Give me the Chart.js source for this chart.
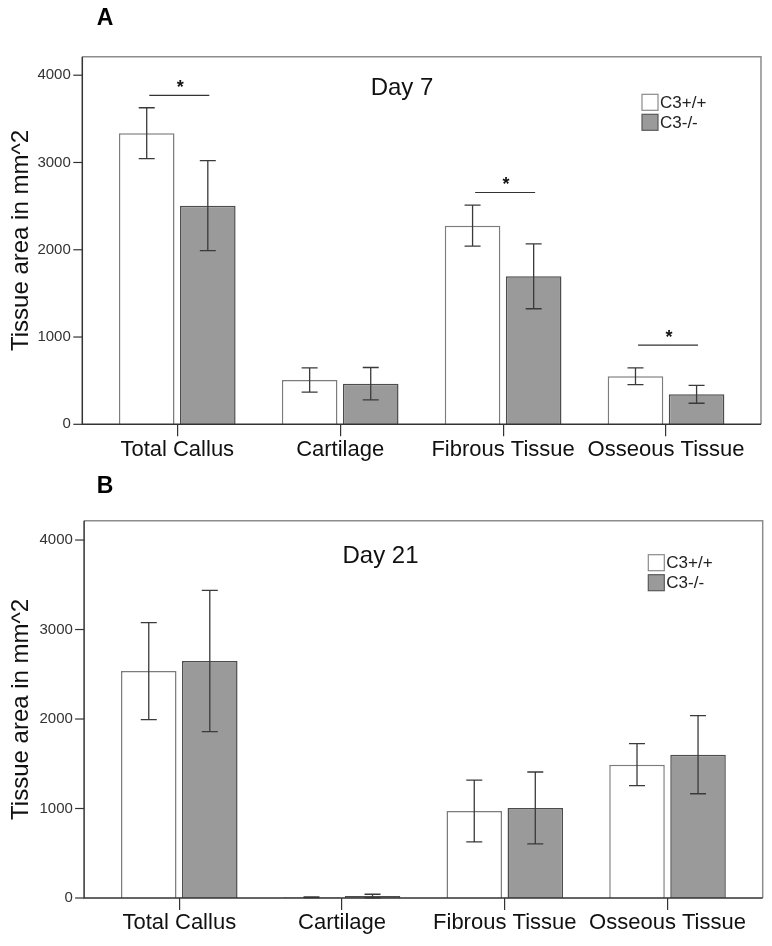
<!DOCTYPE html>
<html>
<head>
<meta charset="utf-8">
<script src="https://cdn.jsdelivr.net/npm/chart.js@4.4.0/dist/chart.umd.min.js"></script>
<style>
  html, body { margin: 0; padding: 0; background: #fff; }
  .panel { position: absolute; left: 0; width: 772px; height: 473px; }
</style>
</head>
<body>
<div class="panel" style="top:0"><canvas id="day7Chart" width="772" height="473"></canvas></div>
<div class="panel" style="top:473px"><canvas id="day21Chart" width="772" height="473"></canvas></div>
<script>
// --- DATA ---
const categories = ['Total Callus', 'Cartilage', 'Fibrous Tissue', 'Osseous Tissue'];
const seriesLabels = ['C3+/+', 'C3-/-'];
const yTicks = [0, 1000, 2000, 3000, 4000];

// Day 7
const day7Wt = [3335, 508, 2276, 550];
const day7WtErr = [292, 139, 235, 96];
const day7Ko = [2505, 465, 1696, 344];
const day7KoErr = [516, 186, 372, 103];
const day7SigIndex = [0, 2, 3];
const day7SigValue = [3770, 2656, 907];

// Day 21
const day21Wt = [2536, 8, 972, 1490];
const day21WtErr = [542, 4, 345, 235];
const day21Ko = [2648, 22, 1006, 1601];
const day21KoErr = [790, 20, 402, 436];

Chart.defaults.font.family = "'Liberation Sans', Arial, sans-serif";
Chart.defaults.color = '#222';

// --- Decorations: frame, error bars, significance, legend, titles ---
const panelDecor = {
    id: 'panelDecor',
    afterDatasetsDraw(chart, args, o) {
        const ctx = chart.ctx;
        const ca = chart.chartArea;
        const xs = chart.scales.x;
        const ys = chart.scales.y;
        ctx.save();

        // error bars
        ctx.strokeStyle = '#3a3a3a';
        ctx.lineWidth = 1.3;
        chart.data.datasets.forEach((ds, di) => {
            const meta = chart.getDatasetMeta(di);
            meta.data.forEach((bar, i) => {
                const v = ds.data[i];
                const e = ds.errors[i];
                const yTop = ys.getPixelForValue(v + e);
                const yBot = ys.getPixelForValue(Math.max(v - e, 0));
                ctx.beginPath();
                ctx.moveTo(bar.x, yTop); ctx.lineTo(bar.x, yBot);
                ctx.moveTo(bar.x - 8, yTop); ctx.lineTo(bar.x + 8, yTop);
                ctx.moveTo(bar.x - 8, yBot); ctx.lineTo(bar.x + 8, yBot);
                ctx.stroke();
            });
        });

        // significance lines
        (o.sigIndex || []).forEach((ci, k) => {
            const cx = xs.getPixelForValue(ci) + 2;
            const py = ys.getPixelForValue(o.sigValue[k]);
            ctx.strokeStyle = '#333';
            ctx.lineWidth = 1.2;
            ctx.beginPath();
            ctx.moveTo(cx - 30, py); ctx.lineTo(cx + 30, py);
            ctx.stroke();
            ctx.fillStyle = '#111';
            ctx.font = "bold 18px 'Liberation Sans', Arial, sans-serif";
            ctx.textAlign = 'center';
            ctx.textBaseline = 'alphabetic';
            ctx.fillText('*', cx + 1, py - 2);
        });

        // frame
        const L = ca.left - o.padX, R = ca.right + o.padX, T = ca.top, B = ca.bottom;
        ctx.lineWidth = 1.5;
        ctx.strokeStyle = '#8c8c8c';
        ctx.beginPath();
        ctx.moveTo(L, T); ctx.lineTo(R, T); ctx.lineTo(R, B);
        ctx.stroke();
        ctx.strokeStyle = '#333';
        ctx.beginPath();
        ctx.moveTo(L, T); ctx.lineTo(L, B); ctx.lineTo(R, B);
        ctx.stroke();

        // y tick marks
        ctx.lineWidth = 1.2;
        ys.ticks.forEach(t => {
            const py = ys.getPixelForValue(t.value);
            ctx.beginPath();
            ctx.moveTo(L - 9, py); ctx.lineTo(L, py);
            ctx.stroke();
        });

        // panel title
        ctx.fillStyle = '#111';
        ctx.font = "24px 'Liberation Sans', Arial, sans-serif";
        ctx.textAlign = 'center';
        ctx.textBaseline = 'middle';
        ctx.fillText(o.title, o.titleX, o.titleY);

        // panel letter
        ctx.font = "bold 23px 'Liberation Sans', Arial, sans-serif";
        ctx.fillStyle = '#000';
        ctx.fillText(o.letter, o.letterX, o.letterY);

        // legend
        ctx.font = "17px 'Liberation Sans', Arial, sans-serif";
        ctx.textAlign = 'left';
        chart.data.datasets.forEach((ds, di) => {
            const bx = o.legendX, by = o.legendY + di * 20;
            ctx.fillStyle = ds.backgroundColor;
            ctx.fillRect(bx, by, 16, 16);
            ctx.strokeStyle = di === 0 ? '#8a8a8a' : '#5a5a5a';
            ctx.lineWidth = 1.2;
            ctx.strokeRect(bx, by, 16, 16);
            ctx.fillStyle = '#222';
            ctx.fillText(ds.label, bx + 18, by + 9);
        });

        ctx.restore();
    }
};

function makePanel(canvasId, wt, wtErr, ko, koErr, area, decor) {
    const ctx = document.getElementById(canvasId).getContext('2d');
    return new Chart(ctx, {
        type: 'bar',
        data: {
            labels: categories,
            datasets: [
                {
                    label: seriesLabels[0], data: wt, errors: wtErr,
                    backgroundColor: '#ffffff', borderColor: '#7c7c7c', borderWidth: 1.5
                },
                {
                    label: seriesLabels[1], data: ko, errors: koErr,
                    backgroundColor: '#9a9a9a', borderColor: '#4c4c4c', borderWidth: 1.5
                }
            ]
        },
        options: {
            responsive: false,
            animation: false,
            events: [],
            categoryPercentage: 0.75,
            barPercentage: 0.91,
            layout: { padding: { top: area.top, right: 772 - area.right, bottom: 0, left: 0 } },
            plugins: {
                legend: { display: false },
                tooltip: { enabled: false },
                panelDecor: decor
            },
            scales: {
                x: {
                    grid: { display: true, drawOnChartArea: false, offset: false, tickLength: 12, color: '#333', lineWidth: 1.2 },
                    border: { display: false },
                    ticks: { padding: 0, color: '#111', font: { size: 22 }, maxRotation: 0, autoSkip: false },
                    afterFit(scale) { scale.height = 473 - area.bottom; }
                },
                y: {
                    min: 0,
                    max: area.yMax,
                    grid: { display: false, drawTicks: false },
                    border: { display: false },
                    afterBuildTicks(scale) { scale.ticks = yTicks.map(v => ({ value: v })); },
                    ticks: { padding: 25, color: '#333', font: { size: 15 }, callback: v => String(v) },
                    title: {
                        display: true, text: 'Tissue area in mm^2', color: '#111',
                        font: { size: 24 }, padding: { top: 7, bottom: 0 }
                    },
                    afterFit(scale) { scale.width = area.left; }
                }
            }
        },
        plugins: [panelDecor]
    });
}

makePanel('day7Chart', day7Wt, day7WtErr, day7Ko, day7KoErr,
    { left: 95.8, right: 747.5, top: 56.7, bottom: 424.3, yMax: 4212 },
    {
        padX: 13.5, title: 'Day 7', titleX: 402, titleY: 88,
        letter: 'A', letterX: 105, letterY: 18.5,
        legendX: 642, legendY: 94.3,
        sigIndex: day7SigIndex, sigValue: day7SigValue
    });

makePanel('day21Chart', day21Wt, day21WtErr, day21Ko, day21KoErr,
    { left: 97.9, right: 748.9, top: 47.7, bottom: 425, yMax: 4216 },
    {
        padX: 13.8, title: 'Day 21', titleX: 380.5, titleY: 83.7,
        letter: 'B', letterX: 105, letterY: 13.5,
        legendX: 648.3, legendY: 81.7,
        sigIndex: [], sigValue: []
    });
</script>
</body>
</html>
